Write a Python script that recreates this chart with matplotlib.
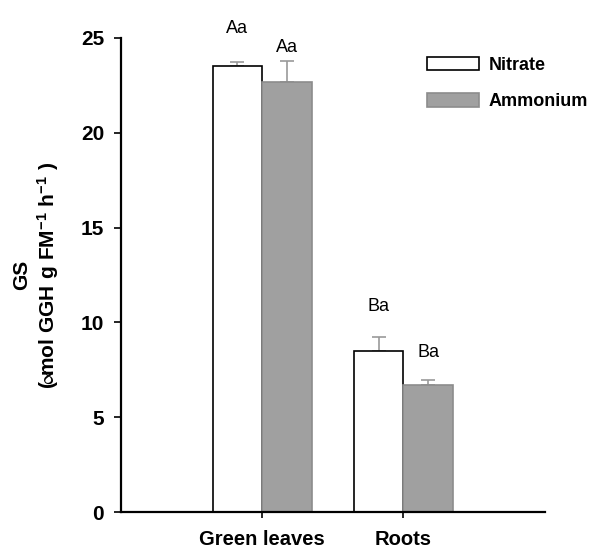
import numpy as np
import matplotlib
matplotlib.use("Agg")
from matplotlib import pyplot as plt

plt.rcParams['font.family'] = ['Liberation Sans', 'DejaVu Sans']
plt.rcParams['mathtext.fontset'] = 'custom'
plt.rcParams['mathtext.rm'] = 'Liberation Sans:bold'
plt.rcParams['mathtext.bf'] = 'Liberation Sans:bold'
plt.rcParams['mathtext.it'] = 'Liberation Sans:bold'
plt.rcParams['mathtext.fallback'] = 'stixsans'

categories = ["Green leaves", "Roots"]
nitrate = [23.5, 8.5]
nitrate_err = [0.25, 0.75]
ammonium = [22.7, 6.7]
ammonium_err = [1.1, 0.25]
letters_nitrate = ["Aa", "Ba"]
letters_ammonium = ["Aa", "Ba"]

fig = plt.figure(figsize=(5.89, 5.5), dpi=100)
ax = fig.add_axes([0.205, 0.069, 0.72, 0.862])

x = np.arange(len(categories))
w = 0.35

ax.bar(x - w / 2, nitrate, w, color='white', edgecolor='black', linewidth=1.2,
       label='Nitrate', zorder=2)
ax.bar(x + w / 2, ammonium, w, color='#a0a0a0', edgecolor='#8c8c8c', linewidth=1.2,
       label='Ammonium', zorder=2)

# only the upper half of the error bars
ax.errorbar(x - w / 2, nitrate, yerr=[np.zeros(2), nitrate_err], fmt='none',
            ecolor='#999999', elinewidth=1.2, capsize=4.7, capthick=1.2, zorder=1)
ax.errorbar(x + w / 2, ammonium, yerr=[np.zeros(2), ammonium_err], fmt='none',
            ecolor='#999999', elinewidth=1.2, capsize=4.7, capthick=1.2, zorder=1)

# letters sit a little above the error caps
off_n = [1.5, 1.35]
off_a = [0.45, 1.25]
for i in range(len(categories)):
    ax.text(x[i] - w / 2, nitrate[i] + nitrate_err[i] + off_n[i], letters_nitrate[i],
            ha='center', va='baseline', fontsize=13, clip_on=False)
    ax.text(x[i] + w / 2, ammonium[i] + ammonium_err[i] + off_a[i], letters_ammonium[i],
            ha='center', va='baseline', fontsize=13, clip_on=False)

ax.set_xlim(-1, 2)
ax.set_ylim(0, 25)
ax.set_yticks([0, 5, 10, 15, 20, 25])
ax.set_xticks(x)
ax.set_xticklabels(categories, fontsize=14.5, fontweight='bold')
ax.tick_params(axis='x', length=4, width=1.2, pad=9)
ax.tick_params(axis='y', length=5, width=1.2, labelsize=15, pad=7)
for lab in ax.get_yticklabels():
    lab.set_fontweight('bold')

ax.spines['top'].set_visible(False)
ax.spines['right'].set_visible(False)
ax.spines['left'].set_linewidth(1.6)
ax.spines['bottom'].set_linewidth(1.6)

fig.text(0.036, 0.5, "GS", rotation=90, ha='center', va='center',
         fontsize=15, fontweight='bold')
fig.text(0.082, 0.5,
         r"$(\!\!\propto\!\!\!\mathrm{mol\ GGH\ g\ FM}^{-1}\ \mathrm{h}^{-1}\ )$",
         rotation=90, ha='center', va='center', fontsize=15)

ax.legend(loc='upper left', bbox_to_anchor=(0.722, 0.96), frameon=False,
          borderpad=0, borderaxespad=0, handlelength=2.9, handleheight=0.78,
          handletextpad=0.5, labelspacing=1.06,
          prop={'weight': 'bold', 'size': 13})

fig.savefig("out.png", dpi=100)
